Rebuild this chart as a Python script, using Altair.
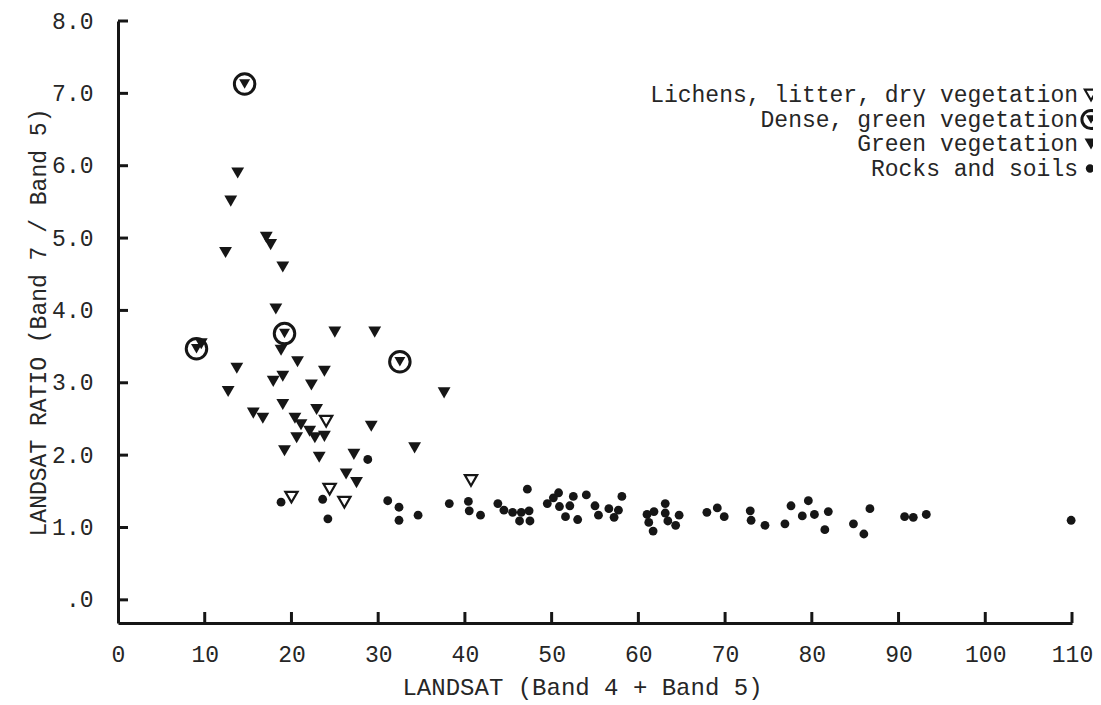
import altair as alt
import pandas as pd

# ---------------- data ----------------
rock_x = [28.8, 18.8, 23.6, 24.2, 31.1, 32.4, 32.4, 34.6, 38.2, 40.4, 40.5, 41.8,
          43.8, 44.5, 45.5, 46.5, 46.3, 47.2, 47.4, 47.5, 49.5, 50.2, 50.8, 50.9,
          51.6, 52.1, 52.5, 53.0, 54.0, 55.0, 55.4, 56.6, 57.2, 57.7, 58.1, 61.0,
          61.2, 61.7, 61.8, 63.1, 63.1, 63.4, 64.3, 64.7, 67.9, 69.1, 69.9, 72.9,
          73.0, 74.6, 76.9, 77.6, 78.9, 79.6, 80.3, 81.9, 81.5, 84.8, 86.0, 86.7,
          90.7, 91.7, 93.2, 109.9]
rock_y = [1.94, 1.35, 1.39, 1.12, 1.37, 1.28, 1.10, 1.17, 1.33, 1.36, 1.23, 1.17,
          1.33, 1.24, 1.21, 1.21, 1.09, 1.53, 1.23, 1.09, 1.33, 1.41, 1.48, 1.29,
          1.15, 1.30, 1.43, 1.11, 1.45, 1.30, 1.17, 1.26, 1.14, 1.24, 1.43, 1.18,
          1.07, 0.95, 1.22, 1.33, 1.20, 1.09, 1.03, 1.17, 1.21, 1.27, 1.15, 1.23,
          1.10, 1.03, 1.05, 1.30, 1.16, 1.37, 1.18, 1.22, 0.97, 1.05, 0.91, 1.26,
          1.15, 1.14, 1.18, 1.10]

green_x = [13.8, 13.0, 17.1, 17.6, 12.4, 19.0, 18.2, 25.0, 29.6, 9.6, 18.8, 20.7,
           13.7, 23.8, 19.0, 17.9, 22.3, 12.7, 37.6, 19.0, 22.9, 15.6, 16.7, 20.4,
           21.1, 22.1, 29.2, 20.6, 22.7, 23.8, 34.2, 19.2, 23.2, 27.2, 26.3, 27.5]
green_y = [5.90, 5.51, 5.01, 4.91, 4.80, 4.60, 4.02, 3.70, 3.70, 3.54, 3.45, 3.29,
           3.20, 3.16, 3.09, 3.02, 2.97, 2.88, 2.86, 2.70, 2.63, 2.58, 2.51, 2.51,
           2.42, 2.33, 2.40, 2.24, 2.24, 2.26, 2.10, 2.06, 1.97, 2.01, 1.74, 1.62]

lichen_x = [24.0, 40.7, 20.0, 24.4, 26.1]
lichen_y = [2.47, 1.65, 1.42, 1.53, 1.35]

dense_x = [14.6, 19.2, 9.05, 32.5]
dense_y = [7.13, 3.68, 3.47, 3.29]

x_ticks = [0, 10, 20, 30, 40, 50, 60, 70, 80, 90, 100, 110]
x_tick_labels = ["0", "10", "20", "30", "40", "50", "60", "70", "80", "90", "100", "110"]
y_ticks = [0, 1, 2, 3, 4, 5, 6, 7, 8]
y_tick_labels = [".0", "1.0", "2.0", "3.0", "4.0", "5.0", "6.0", "7.0", "8.0"]

legend_labels = ["Lichens, litter, dry vegetation", "Dense, green vegetation",
                 "Green vegetation", "Rocks and soils"]

x_title = "LANDSAT (Band 4 + Band 5)"
y_title = "LANDSAT RATIO (Band 7 / Band 5)"

# ---------------- layout / style ----------------
W, H = 954, 602
FONT = "Liberation Mono"
INK = "#161616"
TXT = "#262626"
FS = 23

def label_expr(values, labels):
    expr = "''"
    for v, l in reversed(list(zip(values, labels))):
        expr = f"datum.value == {v} ? '{l}' : ({expr})"
    return expr

xscale = alt.Scale(domain=[0, 110], nice=False, zero=False)
yscale = alt.Scale(domain=[-0.32, 8.0], nice=False, zero=False)

x_axis = alt.Axis(values=x_ticks, labelExpr=label_expr(x_ticks, x_tick_labels),
                  grid=False, ticks=False, domainColor=INK, domainWidth=3,
                  labelFont=FONT, labelFontSize=FS, labelColor=TXT, labelPadding=20,
                  labelFlush=False, labelOverlap=False,
                  title=x_title, titleFont=FONT, titleFontSize=24, titleFontWeight="normal",
                  titleColor=TXT, titleX=464, titleY=64, titleAlign="center",
                  titleBaseline="middle")
y_axis = alt.Axis(values=y_ticks, labelExpr=label_expr(y_ticks, y_tick_labels),
                  grid=False, ticks=False, domainColor=INK, domainWidth=3,
                  labelFont=FONT, labelFontSize=FS, labelColor=TXT, labelPadding=25,
                  labelFlush=False, labelOverlap=False,
                  title=y_title, titleFont=FONT, titleFontSize=23, titleFontWeight="normal",
                  titleColor=TXT, titleX=-80, titleY=H / 2, titleAngle=-90,
                  titleAlign="center", titleBaseline="middle")

rocks = pd.DataFrame({"x": rock_x, "y": rock_y})
green = pd.DataFrame({"x": green_x, "y": green_y})
lichen = pd.DataFrame({"x": lichen_x, "y": lichen_y})
dense = pd.DataFrame({"x": dense_x, "y": dense_y})

X = alt.X("x:Q", scale=xscale, axis=x_axis)
Y = alt.Y("y:Q", scale=yscale, axis=y_axis)

base_rocks = alt.Chart(rocks).mark_point(shape="circle", filled=True, size=78,
                                         color=INK, opacity=1).encode(x=X, y=Y)
base_green = alt.Chart(green).mark_point(shape="triangle-down", filled=True, size=165,
                                         color=INK, opacity=1).encode(x="x:Q", y="y:Q")
base_lichen = alt.Chart(lichen).mark_point(shape="triangle-down", filled=False, size=150,
                                           color=INK, strokeWidth=2.2, opacity=1).encode(x="x:Q", y="y:Q")
dense_ring = alt.Chart(dense).mark_point(shape="circle", filled=False, size=420,
                                         color=INK, strokeWidth=3, opacity=1).encode(x="x:Q", y="y:Q")
dense_tri = alt.Chart(dense).mark_point(shape="triangle-down", filled=True, size=120,
                                        color=INK, opacity=1).encode(x="x:Q", y="y:Q")

# inward tick marks
xt = pd.DataFrame({"v": x_ticks[1:]})
yt = pd.DataFrame({"v": y_ticks})
x_tick_rules = alt.Chart(xt).mark_rule(color=INK, strokeWidth=3).encode(
    x="v:Q", y=alt.value(H), y2=alt.value(H - 11))
y_tick_rules = alt.Chart(yt).mark_rule(color=INK, strokeWidth=3).encode(
    y="v:Q", x=alt.value(0), x2=alt.value(10))

# legend (text right-aligned, symbol at right edge)
LFS = 23
leg = pd.DataFrame({"label": legend_labels, "row": [0, 1, 2, 3]})
leg["py"] = 74 + leg["row"] * 24.5
legend_text = alt.Chart(leg).mark_text(align="right", baseline="middle", font=FONT,
                                       fontSize=LFS, color=TXT).encode(
    x=alt.value(960), y=alt.Y("py:Q", scale=None), text="label:N")
SX = 973
leg_lichen = alt.Chart(leg[leg.row == 0]).mark_point(shape="triangle-down", filled=False, size=150,
                                                     color=INK, strokeWidth=2.2, opacity=1).encode(
    x=alt.value(SX), y=alt.Y("py:Q", scale=None))
leg_dense_r = alt.Chart(leg[leg.row == 1]).mark_point(shape="circle", filled=False, size=330,
                                                      color=INK, strokeWidth=3, opacity=1).encode(
    x=alt.value(SX), y=alt.Y("py:Q", scale=None))
leg_dense_t = alt.Chart(leg[leg.row == 1]).mark_point(shape="triangle-down", filled=True, size=100,
                                                      color=INK, opacity=1).encode(
    x=alt.value(SX), y=alt.Y("py:Q", scale=None))
leg_green = alt.Chart(leg[leg.row == 2]).mark_point(shape="triangle-down", filled=True, size=165,
                                                    color=INK, opacity=1).encode(
    x=alt.value(SX), y=alt.Y("py:Q", scale=None))
leg_rock = alt.Chart(leg[leg.row == 3]).mark_point(shape="circle", filled=True, size=70,
                                                   color=INK, opacity=1).encode(
    x=alt.value(SX - 1), y=alt.Y("py:Q", scale=None))

chart = alt.layer(
    base_rocks, x_tick_rules, y_tick_rules, base_green, base_lichen, dense_ring, dense_tri,
    legend_text, leg_lichen, leg_dense_r, leg_dense_t, leg_green, leg_rock
).properties(
    width=W, height=H,
    autosize=alt.AutoSizeParams(type="none"),
    padding={"left": 110, "top": 13, "right": 21, "bottom": 80},
    background="white",
).configure_view(stroke=None)

chart.save("out.html", embed_options={"renderer": "svg", "actions": False})
